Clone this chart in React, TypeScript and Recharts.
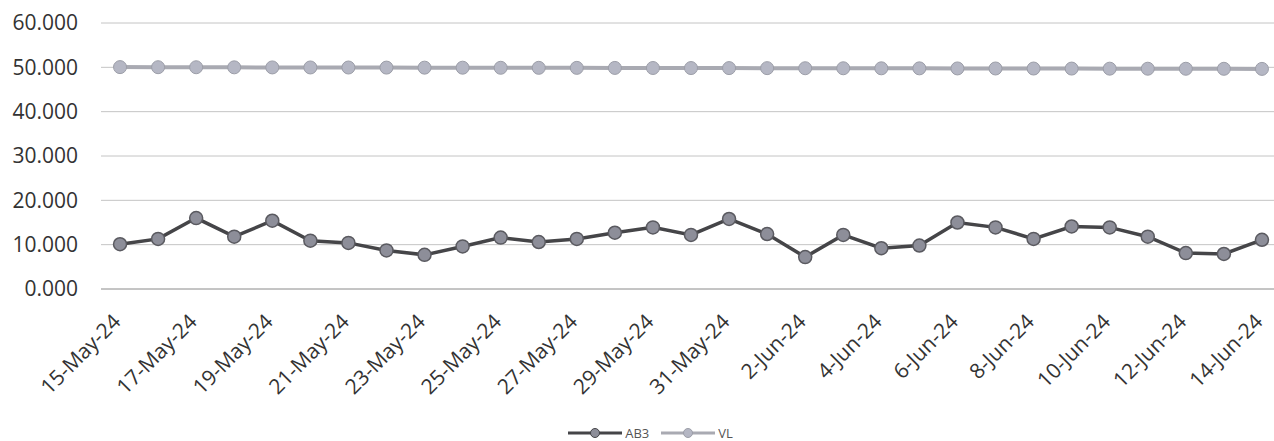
import { LineChart, Line, XAxis, YAxis, CartesianGrid, Legend } from 'recharts';

const DATES = [
  '15-May-24', '16-May-24', '17-May-24', '18-May-24', '19-May-24', '20-May-24',
  '21-May-24', '22-May-24', '23-May-24', '24-May-24', '25-May-24', '26-May-24',
  '27-May-24', '28-May-24', '29-May-24', '30-May-24', '31-May-24', '1-Jun-24',
  '2-Jun-24', '3-Jun-24', '4-Jun-24', '5-Jun-24', '6-Jun-24', '7-Jun-24',
  '8-Jun-24', '9-Jun-24', '10-Jun-24', '11-Jun-24', '12-Jun-24', '13-Jun-24',
  '14-Jun-24',
];

const AB3 = [
  10.1, 11.3, 16.0, 11.8, 15.4, 10.9, 10.4, 8.7, 7.7, 9.6, 11.6, 10.6,
  11.3, 12.7, 13.9, 12.2, 15.8, 12.4, 7.2, 12.2, 9.2, 9.8, 15.0, 13.9,
  11.3, 14.1, 13.9, 11.8, 8.1, 7.9, 11.1,
];

const VL = [
  50.05, 50.03, 50.02, 50.0, 49.98, 49.97, 49.96, 49.94, 49.93, 49.92, 49.9, 49.89,
  49.88, 49.87, 49.85, 49.84, 49.83, 49.82, 49.8, 49.79, 49.78, 49.77, 49.75, 49.74,
  49.73, 49.72, 49.7, 49.69, 49.68, 49.67, 49.65,
];

const Y_TICKS = [0, 10, 20, 30, 40, 50, 60];

const FONT = '"Open Sans", "Noto Sans", sans-serif';
const AB3_LINE = '#454548';
const AB3_DOT = '#8d8e99';
const VL_LINE = '#a9aab2';
const VL_DOT = '#b5b7c4';

const data = DATES.map((date, i) => ({ date, AB3: AB3[i], VL: VL[i] }));

function DateTick({ x, y, payload }: { x: number; y: number; payload: { value: string } }) {
  const tx = x + 2;
  const ty = y + 34;
  return (
    <text
      x={tx}
      y={ty}
      transform={`rotate(-45 ${tx} ${ty})`}
      textAnchor="end"
      fontSize={21}
      fontFamily={FONT}
      fill="#333"
    >
      {payload.value}
    </text>
  );
}

function LegendIcon({ line, dot, stroke }: { line: string; dot: string; stroke: string }) {
  return (
    <svg width={54} height={14}>
      <line x1={0} y1={7} x2={54} y2={7} stroke={line} strokeWidth={3} />
      <circle cx={27} cy={7} r={4.5} fill={dot} stroke={stroke} strokeWidth={1} />
    </svg>
  );
}

function ChartLegend() {
  return (
    <div
      style={{
        display: 'flex',
        justifyContent: 'center',
        alignItems: 'center',
        height: 16,
        paddingLeft: 20,
        fontFamily: FONT,
        fontSize: 13,
        color: '#555',
      }}
    >
      <LegendIcon line={AB3_LINE} dot={AB3_DOT} stroke={AB3_LINE} />
      <span style={{ marginLeft: 3, marginRight: 12 }}>AB3</span>
      <LegendIcon line={VL_LINE} dot={VL_DOT} stroke="#9c9ea8" />
      <span style={{ marginLeft: 3 }}>VL</span>
    </div>
  );
}

export default function App() {
  return (
    <div style={{ position: 'absolute', left: 0, top: 0, width: 1274, height: 441, overflow: 'hidden', background: '#fff' }}>
      <LineChart width={1290} height={441} data={data} margin={{ top: 23, right: 9, left: 0, bottom: 0 }}>
        <CartesianGrid vertical={false} stroke="#c4c4c4" strokeWidth={1} />
        <XAxis
          dataKey="date"
          scale="band"
          interval={1}
          height={136}
          tick={DateTick}
          tickLine={false}
          tickSize={0}
          tickMargin={0}
          axisLine={{ stroke: '#a8a8a8' }}
        />
        <YAxis
          domain={[0, 60]}
          ticks={Y_TICKS}
          width={101}
          tickFormatter={(v: number) => v.toFixed(3)}
          tick={{ fontSize: 21, fontFamily: FONT, fill: '#333' }}
          tickLine={false}
          tickSize={0}
          tickMargin={23}
          axisLine={false}
        />
        <Legend verticalAlign="bottom" height={16} content={<ChartLegend />} />
        <Line
          dataKey="VL"
          stroke={VL_LINE}
          strokeWidth={4}
          dot={{ r: 6.5, fill: VL_DOT, stroke: '#9c9ea8', strokeWidth: 1 }}
          isAnimationActive={false}
        />
        <Line
          dataKey="AB3"
          stroke={AB3_LINE}
          strokeWidth={3.5}
          dot={{ r: 6.5, fill: AB3_DOT, stroke: '#5a5a60', strokeWidth: 1.5 }}
          isAnimationActive={false}
        />
      </LineChart>
    </div>
  );
}
